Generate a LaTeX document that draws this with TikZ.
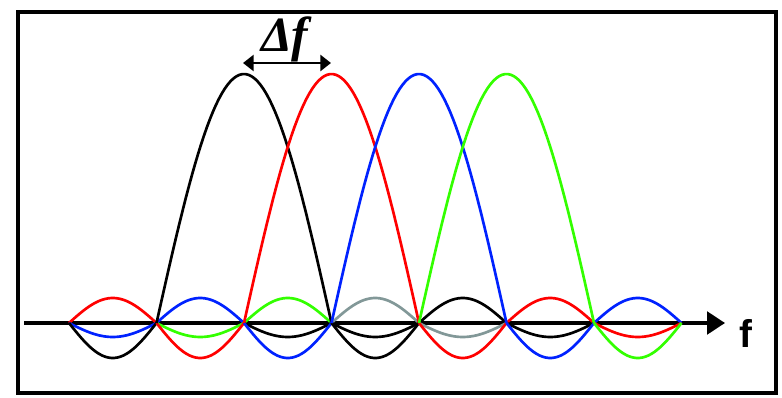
\documentclass[tikz,border=0pt]{standalone}
\usepackage{fontspec}
\setmainfont{Liberation Serif}
\newfontfamily\axisfont{Liberation Sans}
\usetikzlibrary{arrows.meta}
\definecolor{lgreen}{RGB}{51,255,0}
\definecolor{lblue}{RGB}{0,34,255}
\definecolor{lgray}{RGB}{130,152,152}
\begin{document}
\begin{tikzpicture}[x=0.75pt,y=0.75pt]
    \tikzset{
        lobe/.style={line width=2pt, line join=round},
        axis/.style={line width=2.6pt, -{Triangle[length=13.5pt,width=17pt]}},
        spacing/.style={line width=2.2pt, {Triangle[length=8pt,width=12pt]}-{Triangle[length=8pt,width=12pt]}}
    }
    \useasboundingbox (0,-74) rectangle (782,323);
    \draw[line width=2.4pt] (18,-70) rectangle (776,311);

    \coordinate (o) at (24,0);
    \coordinate (fend) at (725,0);
    \draw[axis] (o) -- (fend);
    \node[anchor=base, font=\axisfont\bfseries\fontsize{29}{30}\selectfont] (flabel) at (745.5,-24) {f};

    % side lobes: up / shallow down / deep down in each gap
    \foreach \k/\u/\s/\d in {%
        0/red/lblue/black, 1/lblue/lgreen/red, 2/lgreen/black/lblue,
        3/lgray/black/black, 4/black/lgray/red, 5/red/black/lblue,
        6/lblue/red/lgreen%
    }{
        \draw[lobe,\u] plot[domain=0:87.5, samples=30] ({69+87.5*\k+\x},{25*sin(\x/87.5*180)});
        \draw[lobe,\s] plot[domain=0:87.5, samples=30] ({69+87.5*\k+\x},{-14*sin(\x/87.5*180)});
        \draw[lobe,\d] plot[domain=0:87.5, samples=30] ({69+87.5*\k+\x},{-35*sin(\x/87.5*180)});
    }

    % main lobes
    \foreach \k/\c in {1/black, 2/red, 3/lblue, 4/lgreen}{
        \draw[lobe,\c] plot[domain=0:175, samples=60] ({69+87.5*\k+\x},{249*sin(\x/175*180)});
    }

    \coordinate (dl) at (243,260);
    \coordinate (dr) at (331,260);
    \draw[spacing] (dl) -- (dr);
    \node[anchor=base, font=\bfseries\itshape\fontsize{37}{40}\selectfont] (df) at (285,271) {Δ\kern-1pt f};
\end{tikzpicture}
\end{document}
